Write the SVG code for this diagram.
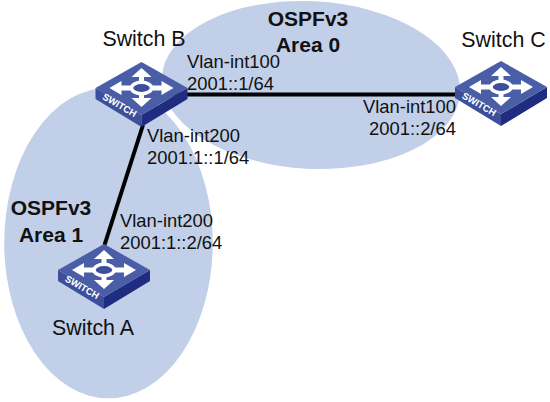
<svg xmlns="http://www.w3.org/2000/svg" width="550" height="402" viewBox="0 0 550 402">
<style>
text{font-family:"Liberation Sans",Arial,sans-serif;font-size:18.400px;fill:#111}
.n{font-size:21.400px;text-anchor:middle}
.b{font-size:21px;font-weight:bold;text-anchor:middle}
.area{fill:#c1cfe8;stroke:#fff;stroke-width:1.5}
.link{stroke:#000;stroke-width:4;fill:none}
</style>
<defs>
<g id="sw">
<path d="M-46 0L0 27V39L-46 11Z" fill="#3d4f9b"/>
<path d="M46 0L0 27V39L46 11Z" fill="#1f2c80"/>
<path d="M0-26L46 0L0 27L-46 0Z" fill="#4a5ea8"/>
<g fill="#fff">
<path d="M0-20L-10-11H-2.500V-5H2.500V-11H10Z"/>
<path d="M0 19L-10 10H-2.500V5H2.500V10H10Z"/>
<path d="M-32 0L-20-7V-2.500H-10V2.500H-20V7Z"/>
<path d="M32 0L20-7V-2.500H10V2.500H20V7Z"/>
</g>
<ellipse cx="0" cy="0" rx="10" ry="5.800" fill="#3d4f9b" stroke="#fff" stroke-width="3.500"/>
<text transform="translate(-23.500 20) rotate(30)" text-anchor="middle" style="font-size:9.500px;font-weight:bold;fill:#fff">SWITCH</text>
</g>
</defs>
<g id="areas">
<ellipse class="area" cx="311" cy="85" rx="150" ry="84.500" transform="rotate(3 311 85)"/>
<ellipse class="area" cx="108.500" cy="243" rx="105" ry="156"/>
</g>
<g id="connectors">
<line class="link" x1="141" y1="94.500" x2="501" y2="94.500"/>
<line class="link" x1="143" y1="125" x2="104.500" y2="245"/>
</g>
<g id="switch-b"><use href="#sw" x="141.500" y="88"/><text x="144" y="46" class="n">Switch B</text></g>
<g id="switch-c"><use href="#sw" x="501" y="87"/><text x="503.500" y="47" class="n">Switch C</text></g>
<g id="switch-a"><use href="#sw" x="104" y="270"/><text x="93" y="335" class="n">Switch A</text></g>
<g id="labels">
<text x="308" y="26" class="b">OSPFv3</text><text x="308" y="52" class="b">Area 0</text>
<text x="51" y="215" class="b">OSPFv3</text><text x="51" y="242" class="b">Area 1</text>
<text x="187" y="68">Vlan-int100</text><text x="187" y="90">2001::1/64</text>
<text x="363" y="113">Vlan-int100</text><text x="369" y="135">2001::2/64</text>
<text x="147" y="142">Vlan-int200</text><text x="147" y="164">2001:1::1/64</text>
<text x="120" y="227">Vlan-int200</text><text x="120" y="249">2001:1::2/64</text>
</g>
</svg>
